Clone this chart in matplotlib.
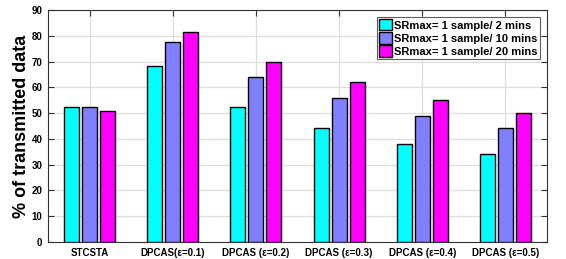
import matplotlib
matplotlib.use("Agg")
import matplotlib.pyplot as plt
import numpy as np
from matplotlib.patches import Patch

categories = ["STCSTA", "DPCAS(\u03b5=0.1)", "DPCAS (\u03b5=0.2)", "DPCAS (\u03b5=0.3)",
              "DPCAS (\u03b5=0.4)", "DPCAS (\u03b5=0.5)"]
series_names = ["SRmax= 1 sample/ 2 mins", "SRmax= 1 sample/ 10 mins", "SRmax= 1 sample/ 20 mins"]
sr_2min = [52.2, 68.3, 52.2, 44.2, 37.9, 34.0]
sr_10min = [52.5, 77.5, 64.0, 55.9, 48.9, 44.3]
sr_20min = [50.7, 81.6, 69.7, 62.2, 55.1, 50.0]
colors = ["#00FFFF", "#8080FF", "#FF00FF"]

plt.rcParams['font.family'] = ['Liberation Sans', 'DejaVu Sans']
plt.rcParams['font.weight'] = 'bold'

fig = plt.figure(figsize=(5.66, 2.59), dpi=100)
ax = fig.add_axes([48/566, 1-242/259, 499/566, 232/259])

x = np.arange(1, len(categories) + 1)
offs = [-0.217, 0, 0.217]
w = 0.18
for vals, c, o, name in zip([sr_2min, sr_10min, sr_20min], colors, offs, series_names):
    ax.bar(x + o, vals, w, color=c, edgecolor='black', linewidth=1.0, zorder=3, label=name)

ax.set_xlim(0.5, 6.5)
ax.set_ylim(0, 90)
ax.set_yticks(range(0, 91, 10))
ax.set_xticks(x)
ax.set_xticklabels(categories, fontsize=7, fontweight='bold')
ax.tick_params(axis='y', labelsize=7)
for lab in ax.get_yticklabels():
    lab.set_fontweight('bold')
ax.tick_params(direction='in', top=True, right=True, length=4, width=0.8, color='#333333', pad=4)
ax.grid(True, color='#dddddd', linewidth=0.9, zorder=0)
ax.set_axisbelow(True)
for s in ax.spines.values():
    s.set_color('#333333')
    s.set_linewidth(0.8)
ax.set_ylabel("% of transmitted data", fontsize=13, fontweight='bold', labelpad=1)

handles = [Patch(facecolor=c, edgecolor='black', linewidth=1.0) for c in colors]
leg = ax.legend(handles, series_names, loc='upper right', bbox_to_anchor=(0.99, 0.98),
                prop={'weight': 'bold', 'size': 8}, frameon=True, fancybox=False,
                edgecolor='#333333', borderpad=0.2, labelspacing=0.15, handlelength=1.2,
                handleheight=1.2, handletextpad=0.15, borderaxespad=0.2)
leg.get_frame().set_linewidth(0.8)

fig.savefig("out.png", dpi=100)
